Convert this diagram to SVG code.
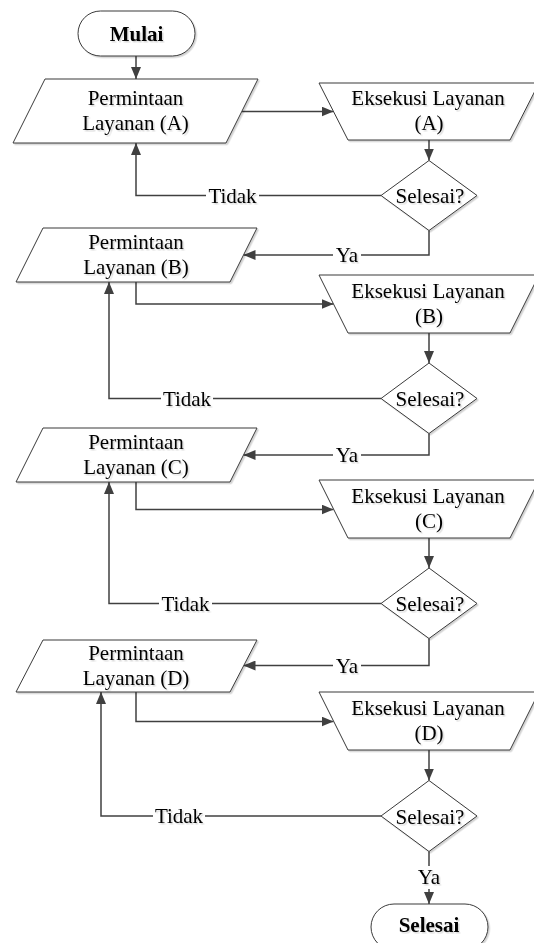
<svg xmlns="http://www.w3.org/2000/svg" width="534" height="943" viewBox="0 0 534 943">
<style>
.shape{fill:#fff;stroke:#3a3a3a;stroke-width:1;filter:url(#sh)}
.t{font-family:"Liberation Serif","Times New Roman",serif;font-size:21px;fill:#000;text-anchor:middle;filter:url(#tsh)}
.b{font-weight:bold}
.c{fill:none;stroke:#404040;stroke-width:1.5}
.arr{marker-end:url(#ah)}
</style>
<defs>
<filter id="sh" x="-10%" y="-10%" width="130%" height="130%"><feDropShadow dx="1.5" dy="1.5" stdDeviation="0.6" flood-color="#000" flood-opacity="0.18"/></filter>
<filter id="tsh" x="-10%" y="-20%" width="130%" height="150%"><feDropShadow dx="1.5" dy="1.5" stdDeviation="0.7" flood-color="#000" flood-opacity="0.15"/></filter>
<marker id="ah" viewBox="0 0 12 10" refX="12" refY="5" markerWidth="12" markerHeight="10" markerUnits="userSpaceOnUse" orient="auto"><path d="M0,0 L12,5 L0,10 z" fill="#404040"/></marker>
</defs>

<g id="connectors">
<path class="c arr" d="M136,56 V79"/>
<path class="c arr" d="M242,111.5 H333.5"/>
<path class="c arr" d="M429,140 V160.5"/>
<path class="c" d="M381,195.5 H259"/><path class="c arr" d="M206,195.5 H136 V143"/>
<path class="c" d="M429,230.5 V255 H361"/><path class="c arr" d="M333,255 H243.5"/>
<path class="c arr" d="M136,282 V304 H333.5"/>
<path class="c arr" d="M429,333 V363"/>
<path class="c" d="M381,398.5 H213"/><path class="c arr" d="M161,398.5 H109 V282"/>
<path class="c" d="M429,433.5 V455 H361"/><path class="c arr" d="M333,455 H243.5"/>
<path class="c arr" d="M136,482 V509.5 H333.5"/>
<path class="c arr" d="M429,538 V568"/>
<path class="c" d="M381,603.5 H212"/><path class="c arr" d="M159,603.5 H109 V482"/>
<path class="c" d="M429,638.5 V665.5 H361"/><path class="c arr" d="M333,665.5 H243.5"/>
<path class="c arr" d="M136,692 V721.5 H333.5"/>
<path class="c arr" d="M429,750 V780.5"/>
<path class="c" d="M381,816 H205"/><path class="c arr" d="M153,816 H101 V692"/>
<path class="c" d="M429,851.5 V866"/><path class="c arr" d="M429,889 V904"/>
<text class="t" x="232.5" y="202.5">Tidak</text>
<text class="t" x="347" y="262">Ya</text>
<text class="t" x="187" y="405.5">Tidak</text>
<text class="t" x="347" y="462">Ya</text>
<text class="t" x="185.5" y="610.5">Tidak</text>
<text class="t" x="347" y="672.5">Ya</text>
<text class="t" x="179" y="823">Tidak</text>
<text class="t" x="429" y="883.5">Ya</text>
</g>

<g id="mulai">
<rect class="shape" x="78" y="11" width="117" height="45" rx="22.5"/>
<text class="t b" x="136.5" y="40.5">Mulai</text>
</g>

<g id="permintaan-a">
<polygon class="shape" points="45,79 258,79 226,143 13,143"/>
<text class="t" x="135.5" y="105">Permintaan</text>
<text class="t" x="135.5" y="130">Layanan (A)</text>
</g>
<g id="eksekusi-a">
<polygon class="shape" points="319,83 539,83 510,140 348,140"/>
<text class="t" x="428" y="105">Eksekusi Layanan</text>
<text class="t" x="429" y="130">(A)</text>
</g>
<g id="selesai-a">
<polygon class="shape" points="429,160.5 477,195.5 429,230.5 381,195.5"/>
<text class="t" x="430" y="203">Selesai?</text>
</g>

<g id="permintaan-b">
<polygon class="shape" points="43,228 257,228 230,282 16,282"/>
<text class="t" x="136" y="249">Permintaan</text>
<text class="t" x="136" y="274">Layanan (B)</text>
</g>
<g id="eksekusi-b">
<polygon class="shape" points="319,275 539,275 510,333 348,333"/>
<text class="t" x="428" y="297.5">Eksekusi Layanan</text>
<text class="t" x="429" y="322.5">(B)</text>
</g>
<g id="selesai-b">
<polygon class="shape" points="429,363 477,398.5 429,433.5 381,398.5"/>
<text class="t" x="430" y="406">Selesai?</text>
</g>

<g id="permintaan-c">
<polygon class="shape" points="43,428 257,428 230,482 16,482"/>
<text class="t" x="136" y="449">Permintaan</text>
<text class="t" x="136" y="474">Layanan (C)</text>
</g>
<g id="eksekusi-c">
<polygon class="shape" points="319,480 539,480 510,538 348,538"/>
<text class="t" x="428" y="502.5">Eksekusi Layanan</text>
<text class="t" x="429" y="527.5">(C)</text>
</g>
<g id="selesai-c">
<polygon class="shape" points="429,568 477,603.5 429,638.5 381,603.5"/>
<text class="t" x="430" y="611">Selesai?</text>
</g>

<g id="permintaan-d">
<polygon class="shape" points="43,640 257,640 230,692 16,692"/>
<text class="t" x="136" y="660">Permintaan</text>
<text class="t" x="136" y="685">Layanan (D)</text>
</g>
<g id="eksekusi-d">
<polygon class="shape" points="319,692 539,692 510,750 348,750"/>
<text class="t" x="428" y="714.5">Eksekusi Layanan</text>
<text class="t" x="429" y="739.5">(D)</text>
</g>
<g id="selesai-d">
<polygon class="shape" points="429,780.5 477,816 429,851.5 381,816"/>
<text class="t" x="430" y="823.5">Selesai?</text>
</g>

<g id="selesai">
<rect class="shape" x="371" y="904" width="117" height="46" rx="23"/>
<text class="t b" x="429" y="932">Selesai</text>
</g>
</svg>
